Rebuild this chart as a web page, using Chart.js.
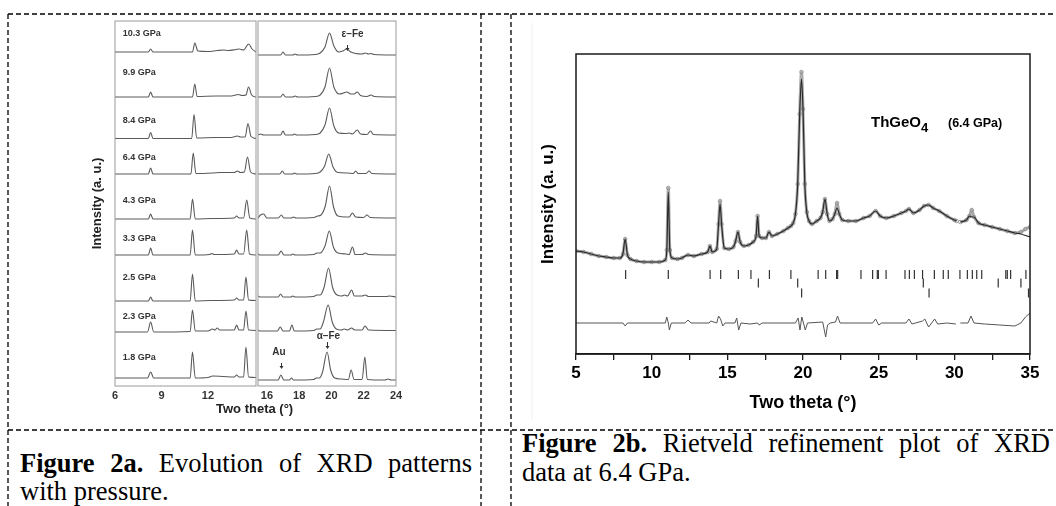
<!DOCTYPE html>
<html>
<head>
<meta charset="utf-8">
<script src="https://cdn.jsdelivr.net/npm/chart.js@4.4.1/dist/chart.umd.min.js"></script>
<style>
  body { margin: 0; background: #fff; width: 1056px; height: 506px; overflow: hidden; position: relative; font-family: "Liberation Sans", Arial, sans-serif; }
  canvas { position: absolute; }
  .cap { position: absolute; font-family: "Liberation Serif", "Times New Roman", serif; font-size: 26.5px; line-height: 28px; color: #000; white-space: nowrap; }
  .full { text-align: justify; text-align-last: justify; }
  .lbl { position: absolute; font-weight: bold; white-space: nowrap; line-height: 1; }
</style>
</head>
<body>
<svg width="1056" height="506" style="position:absolute;left:0;top:0">
  <line x1="532" y1="23" x2="532" y2="420" stroke="#f0f0f0" stroke-width="1"/>
  <g stroke="#000" stroke-width="1.3" stroke-dasharray="5 3" fill="none">
    <line x1="8" y1="14" x2="1056" y2="14"/>
    <line x1="8" y1="430" x2="1056" y2="430"/>
    <line x1="8" y1="14" x2="8" y2="506"/>
    <line x1="481" y1="14" x2="481" y2="506"/>
    <line x1="511" y1="14" x2="511" y2="506"/>
  </g>
</svg>

<canvas id="lowCanvas" width="201" height="397" style="left:75px;top:11px"></canvas>
<canvas id="highCanvas" width="178" height="397" style="left:238px;top:11px"></canvas>
<canvas id="rietCanvas" width="536" height="380" style="left:520px;top:40px"></canvas>

<div class="lbl" style="left:216px;top:402px;font-size:13px;color:#222">Two theta (°)</div>
<div class="lbl" style="left:871px;top:114px;font-size:15px;color:#000">ThGeO<span style="font-size:13px;position:relative;top:5px">4</span></div>
<div class="lbl" style="left:948px;top:117px;font-size:12.5px;color:#000">(6.4 GPa)</div>

<div class="cap full" style="left:20px;top:449px;width:452px"><b>Figure 2a.</b> Evolution of XRD patterns</div>
<div class="cap" style="left:20px;top:477px">with pressure.</div>
<div class="cap full" style="left:522px;top:429px;width:528px"><b>Figure 2b.</b> Rietveld refinement plot of XRD</div>
<div class="cap" style="left:522px;top:458px">data at 6.4 GPa.</div>

<script>
// ---- Figure 2a: stacked XRD patterns (top to bottom) ----
const pressureLabels = ['10.3 GPa', '9.9 GPa', '8.4 GPa', '6.4 GPa', '4.3 GPa', '3.3 GPa', '2.5 GPa', '2.3 GPa', '1.8 GPa'];
const labelLevels = [352, 313, 265, 228, 185, 147, 108, 69, 28];
const lowOffsets = [334, 289, 247.5, 212, 167, 131, 85, 54, 8];
const highOffsets = [331, 289, 251, 212, 168, 131, 89, 55, 6];

// 6 - 15 degrees
const lowAngleTraces = [
    [[6,0],[8.15,0],[8.3,3],[8.45,0],[11.0,0],[11.15,9],[11.35,1],[12.0,0.5],[12.6,1.5],[13.0,2],[13.3,1.5],[13.8,2.5],[14.0,3],[14.3,2],[14.62,8],[14.85,3],[15.1,0]],
    [[6,0],[8.15,0],[8.3,5],[8.45,0],[11.0,0],[11.15,13],[11.3,0.5],[12.5,1],[13.5,1],[13.95,2.5],[14.2,1.5],[14.45,2],[14.62,10],[14.82,2],[15.1,0]],
    [[6,0],[8.15,0],[8.3,6],[8.45,0],[10.95,0],[11.1,24],[11.27,0.5],[12.5,1],[13.5,1],[13.9,2.5],[14.1,1.5],[14.4,1.5],[14.58,15],[14.78,2],[15.1,0]],
    [[6,0],[8.15,0],[8.3,6],[8.45,0],[10.9,0],[11.05,21],[11.22,0.5],[12.3,1],[12.8,1.5],[13.7,1.5],[13.9,3],[14.1,1.5],[14.35,2],[14.55,17],[14.75,2],[15.1,0]],
    [[6,0],[8.15,0],[8.3,5],[8.45,0],[10.85,0],[11.0,20],[11.18,0],[12.3,0.5],[13.7,1],[13.85,3],[14.0,1],[14.3,1],[14.5,19],[14.7,1],[15.1,0]],
    [[6,0],[8.15,0],[8.3,7],[8.45,0],[10.85,0],[11.0,25],[11.18,0],[12.1,0.5],[12.25,1.5],[12.4,0.5],[13.7,1],[13.85,5],[14.0,1],[14.3,1],[14.5,25],[14.68,1],[15.1,0]],
    [[6,0],[8.15,0],[8.3,4],[8.45,0],[10.85,0],[11.0,27],[11.18,0],[12.2,0.5],[13.7,1],[13.85,3],[14.0,1],[14.3,1],[14.45,24],[14.62,1],[15.1,0.5]],
    [[6,0],[8.1,0],[8.3,10],[8.5,0],[10.85,0.5],[11.0,22],[11.18,1],[12.0,1],[12.3,3],[12.45,2],[12.6,4],[12.75,2],[13.7,2],[13.85,7],[14.0,2],[14.3,2],[14.45,21],[14.62,2],[15.1,1.5]],
    [[6,0],[8.1,0],[8.3,6],[8.5,0],[10.85,0],[11.0,26],[11.18,0],[12.0,0.5],[12.3,2],[13.0,1.5],[13.7,1],[13.85,3],[14.0,1],[14.3,1],[14.45,31],[14.62,1],[15.1,0.5]]
];

// 15.5 - 24 degrees
const highAngleTraces = [
    [[15.45,0],[16.85,0],[17.0,3],[17.15,0],[17.6,0],[17.75,1],[17.9,0],[19.0,0.5],[19.3,2],[19.6,8],[19.88,22],[20.15,9],[20.45,3],[20.7,4],[20.94,6],[21.2,3],[21.5,1.5],[21.9,1],[22.1,2],[22.3,1],[22.45,1.5],[22.65,0.5],[24,0]],
    [[15.45,0],[16.85,0],[17.0,3],[17.15,0],[17.6,0],[17.75,1],[17.9,0],[19.0,0.5],[19.3,2],[19.6,10],[19.88,29],[20.15,10],[20.5,3],[20.75,4],[20.95,5],[21.2,3],[21.4,3],[21.6,5],[21.8,1.5],[22.2,0.5],[22.45,2],[22.65,0.5],[24,0]],
    [[15.45,0],[15.6,1],[15.8,0],[16.85,0],[17.0,4],[17.15,0],[17.6,0],[17.7,1],[17.85,0],[19.0,0.5],[19.3,2],[19.6,10],[19.88,27],[20.15,9],[20.45,2],[20.9,1.5],[21.1,2],[21.3,1],[21.6,5],[21.8,1],[22.2,0.5],[22.42,4],[22.6,0.5],[24,0]],
    [[15.45,0],[16.8,0],[16.96,3],[17.1,0],[17.6,0],[17.7,1],[17.85,0],[19.0,0.5],[19.3,2],[19.58,8],[19.83,20],[20.1,7],[20.4,1.5],[21.0,1],[21.35,0.5],[21.5,3],[21.65,0.5],[22.15,0.5],[22.33,3],[22.5,0.5],[24,0]],
    [[15.45,0],[15.6,3],[15.8,4],[16.0,0],[16.7,0],[16.9,3],[17.05,0],[17.5,0],[17.65,1],[17.8,0],[18.9,0.5],[19.15,2],[19.35,3],[19.62,12],[19.88,32],[20.13,11],[20.4,2],[20.9,1],[21.1,1],[21.3,5],[21.5,1],[22.0,0.5],[22.2,3],[22.4,0.5],[24,0]],
    [[15.45,1],[15.6,0],[16.7,0],[16.88,4],[17.05,0],[17.5,0],[17.6,1],[17.75,0],[18.9,0.5],[19.1,2],[19.3,2],[19.6,9],[19.87,24],[20.12,8],[20.4,2],[20.9,1],[21.1,0.5],[21.3,8],[21.47,0.5],[21.9,0.5],[22.1,2],[22.3,0.5],[24,0]],
    [[15.45,1],[15.6,0],[16.7,0],[16.85,3],[17.0,0],[17.5,0],[17.6,1],[17.75,0],[18.9,0.5],[19.1,2],[19.3,2],[19.55,10],[19.82,29],[20.08,9],[20.35,2],[20.65,1],[20.8,2],[21.0,1],[21.25,7],[21.42,1],[21.9,1],[22.1,2],[22.3,0.5],[23.4,0.5],[23.6,1],[24,0]],
    [[15.45,1],[15.6,0],[16.65,0],[16.83,4],[17.0,0],[17.4,0],[17.55,6],[17.7,0],[18.9,0.5],[19.1,2],[19.3,2],[19.5,9],[19.8,26],[20.05,9],[20.3,2],[20.6,1],[20.8,2],[21.0,1],[21.25,3],[21.45,1],[21.9,1],[22.08,5],[22.3,1],[24,0.5]],
    [[15.45,0],[16.3,0],[16.7,0],[16.87,5],[17.05,0],[17.4,0],[17.52,2],[17.65,0],[18.9,0.5],[19.05,2],[19.25,2],[19.45,8],[19.73,28],[19.95,10],[20.2,2],[20.6,1],[21.05,0.5],[21.22,10],[21.4,0.5],[21.9,0.5],[22.07,23],[22.22,0.5],[23.3,0],[23.5,1],[23.7,0],[24,0]]
];

const lowTicks = [6, 9, 12];
const highTicks = [16, 18, 20, 22, 24];

// ---- Figure 2b: Rietveld refinement at 6.4 GPa ----
const observed = [
    [5.0,103],[5.5,102],[6.0,100],[6.5,98],[7.0,97],[7.5,96],[7.9,96],[8.1,100],[8.25,115],[8.4,99],[8.6,95],[9.0,93],[9.5,92],[10.0,92],[10.5,92],[10.9,94],
    [11.0,104],[11.1,166],[11.2,104],[11.35,96],[11.7,95],[12.0,96],[12.4,99],[12.8,98],[13.3,100],[13.7,102],[13.85,108],[14.0,102],[14.3,105],[14.42,130],[14.52,153],[14.62,130],
    [14.8,106],[15.1,105],[15.4,107],[15.55,113],[15.7,122],[15.85,112],[16.1,108],[16.4,109],[16.7,112],[16.9,118],[17.0,138],[17.1,118],[17.3,116],[17.55,116],[17.75,122],[17.95,118],
    [18.3,120],[18.7,123],[19.0,126],[19.2,128],[19.35,131],[19.5,140],[19.65,170],[19.78,240],[19.9,282],[20.0,245],[20.12,170],[20.25,142],[20.4,133],[20.6,130],[20.9,133],[21.15,136],
    [21.3,142],[21.45,155],[21.6,140],[21.75,133],[21.95,135],[22.1,140],[22.25,151],[22.4,140],[22.6,134],[23.0,133],[23.5,133],[24.0,136],[24.4,138],[24.8,143],[25.1,138],[25.5,136],
    [26.0,138],[26.5,141],[26.8,143],[27.0,145],[27.3,141],[27.7,144],[28.0,148],[28.3,149],[28.6,146],[29.0,143],[29.5,138],[30.0,134],[30.15,133],[30.25,null],[30.4,132],[30.8,134],
    [31.0,138],[31.15,144],[31.3,137],[31.6,131],[32.0,129],[32.5,127],[33.0,125],[33.5,123],[34.0,121],[34.4,122],[34.7,125],[35.0,127]
];
// calculated profile where it differs from the observed one
const calculatedTops = { 11.1: 162, 14.52: 150, 19.9: 275, 22.25: 146, 31.15: 137, 34.4: 120, 34.7: 118.5, 35.0: 117 };
const difference = [
    [5,31],[7.5,31],[8.1,31],[8.25,28],[8.4,31],[10.9,31],[11.0,37],[11.1,31],[11.17,24],[11.3,31],[12.2,31],[12.4,34],[12.6,31],[13.8,31],[13.9,33],[14.3,31],
    [14.42,38],[14.55,35],[14.7,28],[14.85,31],[15.5,31],[15.62,36],[15.75,24],[15.9,31],[16.5,30],[17.0,31],[17.1,29],[17.3,31],[19.5,31],[19.68,36],[19.8,24],[19.92,37],
    [20.05,30],[20.15,24],[20.3,31],[21.3,32],[21.5,17],[21.62,29],[21.8,31],[22.15,32],[22.28,38],[22.45,31],[24.6,31],[24.8,35],[25.0,29],[25.2,31],[26.8,31],[27.0,35],
    [27.2,30],[27.9,33],[28.05,35],[28.3,27],[28.5,31],[28.7,35],[28.9,30],[29.5,31],[30.1,30],[30.25,null],[30.4,31],[30.9,31],[31.1,38],[31.3,31],[32.0,30],[33.0,29],
    [34.0,28],[34.4,31],[34.7,37],[35.0,41]
];
const reflectionsPhase1 = [8.28, 11.1, 13.86, 14.56, 15.73, 16.56, 17.78, 19.2, 21.0, 21.5, 22.22, 22.29, 23.83, 24.6, 24.91, 24.98, 25.49, 26.74, 27.03, 27.36, 27.9, 28.68, 29.27, 29.6, 30.37, 30.86, 31.19, 31.48, 31.81, 33.4, 33.5, 33.72, 34.73];
const reflectionsPhase2 = [17.05, 19.65, 27.95, 32.9, 34.4];
const reflectionsPhase3 = [19.91, 28.33, 34.9];
const reflectionLevels = [79.5, 71, 61];
const rietTicks = [5, 7.5, 10, 12.5, 15, 17.5, 20, 22.5, 25, 27.5, 30, 32.5, 35];

const boldSans = (size) => ({ family: '"Liberation Sans", Arial, sans-serif', size: size, weight: 'bold' });

const framePlugin = {
    id: 'frame',
    afterDraw(chart, args, opts) {
        const a = chart.chartArea;
        const ctx = chart.ctx;
        ctx.save();
        ctx.strokeStyle = opts.color;
        ctx.lineWidth = opts.width;
        ctx.strokeRect(a.left, a.top, a.right - a.left, a.bottom - a.top);
        ctx.restore();
    }
};

const notesPlugin = {
    id: 'notes',
    afterDatasetsDraw(chart, args, opts) {
        const ctx = chart.ctx;
        const xs = chart.scales.x, ys = chart.scales.y;
        ctx.save();
        (opts.texts || []).forEach(t => {
            ctx.font = t.font;
            ctx.fillStyle = t.color || '#333';
            ctx.textAlign = t.align || 'left';
            ctx.textBaseline = 'middle';
            ctx.fillText(t.text, xs.getPixelForValue(t.x), ys.getPixelForValue(t.y));
        });
        (opts.arrows || []).forEach(a => {
            const px = Math.round(xs.getPixelForValue(a.x)) + 0.5;
            const y1 = ys.getPixelForValue(a.from), y2 = ys.getPixelForValue(a.to);
            ctx.strokeStyle = '#333';
            ctx.fillStyle = '#333';
            ctx.lineWidth = 1;
            ctx.beginPath();
            ctx.moveTo(px, y1);
            ctx.lineTo(px, y2 - 2);
            ctx.stroke();
            ctx.beginPath();
            ctx.moveTo(px - 2, y2 - 3);
            ctx.lineTo(px + 2, y2 - 3);
            ctx.lineTo(px, y2);
            ctx.closePath();
            ctx.fill();
        });
        ctx.restore();
    }
};

function traceDatasets(traces, offsets) {
    return traces.map((trace, i) => ({
        data: trace.map(p => ({ x: p[0], y: p[1] + offsets[i] })),
        showLine: true,
        borderColor: '#5a5a5a',
        borderWidth: 1.1,
        pointRadius: 0,
        cubicInterpolationMode: 'monotone'
    }));
}

function panelOptions(min, max, tickValues, padding, yAxis) {
    return {
        responsive: false,
        animation: false,
        devicePixelRatio: 1,
        events: [],
        layout: { padding: padding },
        plugins: {
            legend: { display: false },
            tooltip: { enabled: false },
            frame: { color: '#9a9a9a', width: 1 }
        },
        scales: {
            x: {
                type: 'linear',
                min: min,
                max: max,
                afterBuildTicks: s => { s.ticks = tickValues.map(v => ({ value: v })); },
                afterFit: s => { s.height = 22; },
                grid: { display: false, drawTicks: false },
                border: { display: false },
                ticks: { autoSkip: false, maxRotation: 0, padding: 3, color: '#333', font: boldSans(11) }
            },
            y: yAxis
        }
    };
}

const lowLabelNotes = pressureLabels.map((text, i) => ({
    text: text, x: 6.5, y: labelLevels[i], font: 'bold 9px "Liberation Sans", Arial', color: '#333'
}));

const lowOpts = panelOptions(6, 15.1, lowTicks, { left: 0, right: 20, top: 10, bottom: 0 }, {
    min: 0, max: 365,
    afterFit: s => { s.width = 40; },
    grid: { display: false },
    border: { display: false },
    ticks: { display: false },
    title: { display: true, text: 'Intensity (a. u.)', color: '#222', font: boldSans(13), padding: { top: 15, bottom: 0 } }
});
lowOpts.plugins.notes = { texts: lowLabelNotes };

new Chart(document.getElementById('lowCanvas'), {
    type: 'scatter',
    data: { datasets: traceDatasets(lowAngleTraces, lowOffsets) },
    options: lowOpts,
    plugins: [framePlugin, notesPlugin]
});

const highOpts = panelOptions(15.45, 24, highTicks, { left: 20, right: 20, top: 10, bottom: 0 }, {
    display: false, min: 0, max: 365
});
highOpts.plugins.notes = {
    texts: [
        { text: 'ε–Fe', x: 21.31, y: 352, font: 'bold 10px "Liberation Sans", Arial', align: 'center' },
        { text: 'Au', x: 16.75, y: 34, font: 'bold 10px "Liberation Sans", Arial', align: 'center' },
        { text: 'α–Fe', x: 19.81, y: 50, font: 'bold 10px "Liberation Sans", Arial', align: 'center' }
    ],
    arrows: [
        { x: 20.98, from: 341, to: 335 },
        { x: 16.86, from: 23, to: 17 },
        { x: 19.75, from: 44, to: 37 }
    ]
};

new Chart(document.getElementById('highCanvas'), {
    type: 'scatter',
    data: { datasets: traceDatasets(highAngleTraces, highOffsets) },
    options: highOpts,
    plugins: [framePlugin, notesPlugin]
});

// Rietveld plot
const calculated = observed.map(p => [p[0], (p[0] in calculatedTops) ? calculatedTops[p[0]] : p[1]]);
const toXY = arr => arr.map(p => ({ x: p[0], y: p[1] }));
const reflectionSet = (list, level) => ({
    data: list.map(v => ({ x: v, y: level })),
    showLine: false,
    pointStyle: 'line',
    rotation: 90,
    pointRadius: 4.5,
    borderColor: '#333',
    borderWidth: 1.2
});

new Chart(document.getElementById('rietCanvas'), {
    type: 'scatter',
    data: {
        datasets: [
            { data: toXY(calculated), showLine: true, borderColor: '#2a2a2a', borderWidth: 1.2, pointRadius: 0, cubicInterpolationMode: 'monotone', spanGaps: false, order: 0 },
            { data: toXY(observed), showLine: true, borderColor: 'rgba(150,150,150,0.8)', borderWidth: 3, pointRadius: 1.8, pointStyle: 'circle',
              pointBorderColor: '#8a8a8a', pointBackgroundColor: 'rgba(0,0,0,0)', pointBorderWidth: 0.8, cubicInterpolationMode: 'monotone', spanGaps: false, order: 1 },
            { data: toXY(difference), showLine: true, borderColor: '#555', borderWidth: 1, pointRadius: 0, spanGaps: false, order: 0 },
            reflectionSet(reflectionsPhase1, reflectionLevels[0]),
            reflectionSet(reflectionsPhase2, reflectionLevels[1]),
            reflectionSet(reflectionsPhase3, reflectionLevels[2])
        ]
    },
    options: {
        responsive: false,
        animation: false,
        devicePixelRatio: 1,
        events: [],
        layout: { padding: { left: 0, right: 26, top: 14, bottom: 0 } },
        plugins: {
            legend: { display: false },
            tooltip: { enabled: false },
            frame: { color: '#1a1a1a', width: 1.5 }
        },
        scales: {
            x: {
                type: 'linear',
                min: 5,
                max: 35,
                afterBuildTicks: s => { s.ticks = rietTicks.map(v => ({ value: v })); },
                afterFit: s => { s.height = 66; },
                grid: { drawOnChartArea: false, drawTicks: true, tickLength: 6, color: '#1a1a1a', lineWidth: 1.3 },
                border: { display: true, color: '#1a1a1a', width: 1.5 },
                ticks: {
                    autoSkip: false, maxRotation: 0, padding: 3, color: '#000', font: boldSans(17),
                    callback: v => (v % 5 === 0 ? String(v) : '')
                },
                title: { display: true, text: 'Two theta (°)', color: '#000', font: boldSans(18), padding: { top: 0, bottom: 6 } }
            },
            y: {
                min: 0,
                max: 300,
                afterFit: s => { s.width = 56; },
                grid: { display: false },
                border: { display: false },
                ticks: { display: false },
                title: { display: true, text: 'Intensity (a. u.)', color: '#000', font: boldSans(17), padding: { top: 18, bottom: 0 } }
            }
        }
    },
    plugins: [framePlugin]
});
</script>
</body>
</html>
